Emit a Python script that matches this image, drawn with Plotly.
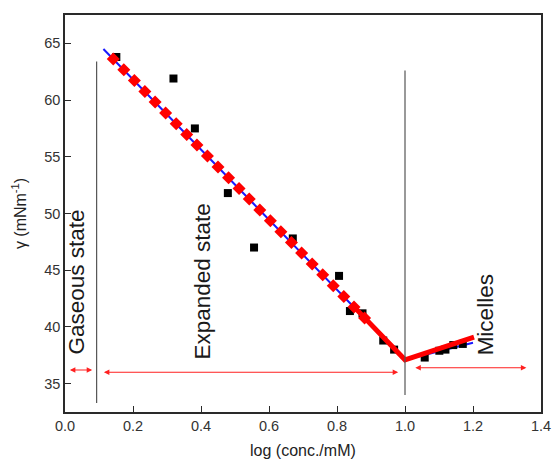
import plotly.graph_objects as go

# measured surface tension data
conc_log = [0.151, 0.319, 0.382, 0.479, 0.556, 0.670, 0.806, 0.838, 0.875, 0.936,
            0.968, 1.058, 1.101, 1.119, 1.142, 1.170]
gamma = [63.8, 61.9, 57.5, 51.8, 47.0, 47.8, 44.5, 41.4, 41.2, 38.8,
         38.0, 37.3, 37.9, 38.0, 38.4, 38.5]

# red diamond fit series
fit_x = [0.142, 0.173, 0.204, 0.235, 0.265, 0.296, 0.327, 0.358, 0.388, 0.419,
         0.450, 0.481, 0.512, 0.542, 0.573, 0.604, 0.635, 0.666, 0.696, 0.727,
         0.758, 0.789, 0.820, 0.850, 0.881]
fit_y = [63.63, 62.67, 61.72, 60.76, 59.83, 58.87, 57.91, 56.96, 56.03, 55.07,
         54.11, 53.16, 52.20, 51.27, 50.31, 49.35, 48.40, 47.44, 46.51, 45.55,
         44.59, 43.64, 42.68, 41.75, 40.79]

# blue linear fit
blue_x = [0.113, 1.0, 1.2]
blue_y = [64.5, 37.1, 38.6]

# red thick segments
red_x = [0.846, 1.0, 1.203]
red_y = [41.9, 37.1, 39.1]

# vertical separators: x, y bottom, y top
sep_x = [0.093, 1.0]
sep_y0 = [33.3, 34.0]
sep_y1 = [63.4, 62.6]

# region arrows: x start, x end, y
arrow_x0 = [0.010, 0.110, 1.026]
arrow_x1 = [0.080, 0.980, 1.357]
arrow_y = [36.2, 36.0, 36.4]

# region labels
label_text = ["Gaseous state", "Expanded state", "Micelles"]
label_x = [0.035, 0.406, 1.238]
label_y = [44.0, 44.0, 41.1]

x_ticks = [0.0, 0.2, 0.4, 0.6, 0.8, 1.0, 1.2, 1.4]
y_ticks = [35, 40, 45, 50, 55, 60, 65]

FONT = "Liberation Sans, Arial"

fig = go.Figure()

fig.add_trace(go.Scatter(x=blue_x, y=blue_y, mode="lines",
                         line=dict(color="#1a1aff", width=2), showlegend=False))
fig.add_trace(go.Scatter(x=conc_log, y=gamma, mode="markers",
                         marker=dict(symbol="square", color="black", size=8),
                         showlegend=False))
fig.add_trace(go.Scatter(x=red_x, y=red_y, mode="lines",
                         line=dict(color="#ff0000", width=5), showlegend=False))
fig.add_trace(go.Scatter(x=fit_x, y=fit_y, mode="markers",
                         marker=dict(symbol="diamond", color="#ff0000", size=10,
                                     line=dict(width=0)),
                         showlegend=False))

for x, a, b in zip(sep_x, sep_y0, sep_y1):
    fig.add_shape(type="line", x0=x, x1=x, y0=a, y1=b, xref="x", yref="y",
                  line=dict(color="#555555", width=1.2))

for a, b, y in zip(arrow_x0, arrow_x1, arrow_y):
    fig.add_annotation(x=b, y=y, ax=a, ay=y, xref="x", yref="y", axref="x", ayref="y",
                       text="", showarrow=True, arrowhead=2, arrowside="end+start",
                       startarrowhead=2, arrowwidth=1.1, arrowsize=1, startarrowsize=1,
                       arrowcolor="#ff2020")

for t, x, y in zip(label_text, label_x, label_y):
    fig.add_annotation(x=x, y=y, xref="x", yref="y", text=t, showarrow=False,
                       textangle=-90, font=dict(size=22.5, color="#1a1a1a", family=FONT))

# x-axis title placed near the bottom edge as in the reference
fig.add_annotation(x=0.5, y=-0.098, xref="paper", yref="paper", yanchor="middle",
                   text="log (conc./mM)", showarrow=False,
                   font=dict(size=16, color="#222222", family=FONT))

axis_common = dict(showgrid=False, zeroline=False, showline=True, linecolor="#2a2a2a",
                   linewidth=1.6, mirror=True, ticks="inside", ticklen=6,
                   tickwidth=1.3, tickcolor="#2a2a2a", ticklabeloverflow="allow",
                   tickfont=dict(size=14.5, color="#333333", family=FONT))

fig.update_xaxes(range=[0, 1.4], tickvals=x_ticks,
                 ticktext=[f"{v:.1f}" for v in x_ticks],
                 **axis_common)
fig.update_yaxes(range=[32.5, 67.5], tickvals=y_ticks,
                 title=dict(text="γ (mNm<sup>-1</sup>)", standoff=14,
                            font=dict(size=16, color="#222222", family=FONT)),
                 **axis_common)

fig.update_layout(width=558, height=462, margin=dict(l=65, r=7, t=15, b=50),
                  plot_bgcolor="white", paper_bgcolor="white")

fig.write_html("out.html")
